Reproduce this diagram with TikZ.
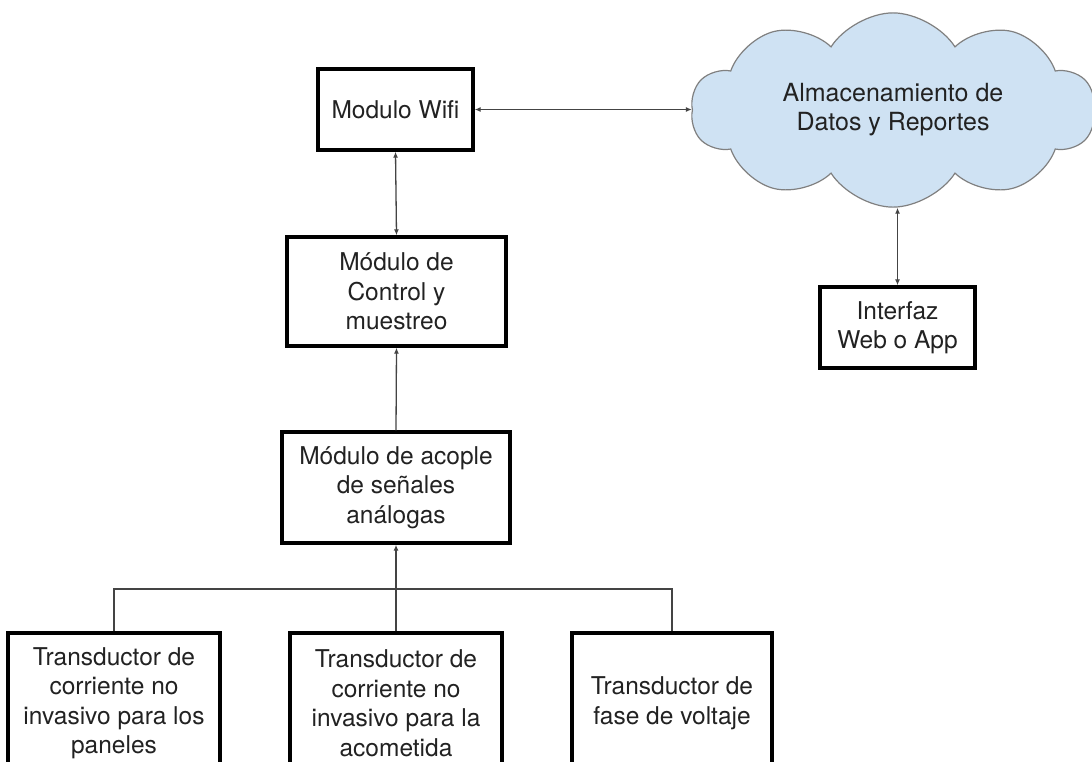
\documentclass[tikz,border=0pt]{standalone}
\usepackage{fontspec}
\setmainfont{TeX Gyre Heros}
\usetikzlibrary{arrows.meta,shapes.symbols}
\definecolor{cloudblue}{HTML}{CFE2F3}
\definecolor{txt}{HTML}{222222}
\definecolor{lin}{HTML}{444444}
\begin{document}
\begin{tikzpicture}[x=1pt,y=-1pt,
  box/.style={draw=black,line width=3.4pt,fill=white,inner sep=0pt,align=center,text=txt,
    font=\fontsize{24.5}{29.5}\selectfont},
  conn/.style={draw=lin,line width=1.3pt,
    arrows={-},>={Latex[length=6pt,width=5pt]}},
]
\useasboundingbox (0,0) rectangle (1092,761);
\fill[white] (0,0) rectangle (1092,761);

\node[cloud,cloud puffs=10,cloud puff arc=115,aspect=2.1,draw=gray,line width=1.2pt,fill=cloudblue,
  minimum width=404pt,minimum height=194pt,inner sep=0pt,align=center,text=txt,
  font=\fontsize{25}{29}\selectfont] (cloud) at (893,110)
  {Almacenamiento de\\Datos y Reportes};

\node[box,minimum width=155pt,minimum height=81pt] (wifi) at (395.5,109.5) {Modulo Wifi};
\node[box,minimum width=219pt,minimum height=109pt] (ctrl) at (396.5,291.5) {Módulo de\\Control y\\muestreo};
\node[box,minimum width=228pt,minimum height=111pt] (acople) at (396,487.5) {Módulo de acople\\de señales\\análogas};
\node[box,minimum width=212pt,minimum height=140pt] (t1) at (114,703) {Transductor de\\corriente no\\invasivo para los\\paneles};
\node[box,minimum width=212pt,minimum height=140pt] (t2) at (396,703) {Transductor de\\corriente no\\invasivo para la\\acometida};
\node[box,minimum width=200pt,minimum height=140pt] (t3) at (672,703) {Transductor de\\fase de voltaje};
\node[box,minimum width=155pt,minimum height=81pt] (web) at (897.5,327.5) {Interfaz\\Web o App};

\coordinate (br) at (396,589);

\draw[conn,<->] (wifi.east) -- (wifi.east -| cloud.west);
\draw[conn,<->] (wifi.south) -- (ctrl.north);
\draw[conn,->] (acople.north) -- (ctrl.south);
\draw[conn,->] (t2.north) -- (acople.south);
\draw[conn] (t1.north) |- (br) -| (t3.north);
\draw[conn,<->] (web.north |- cloud.south) -- (web.north);
\end{tikzpicture}
\end{document}
